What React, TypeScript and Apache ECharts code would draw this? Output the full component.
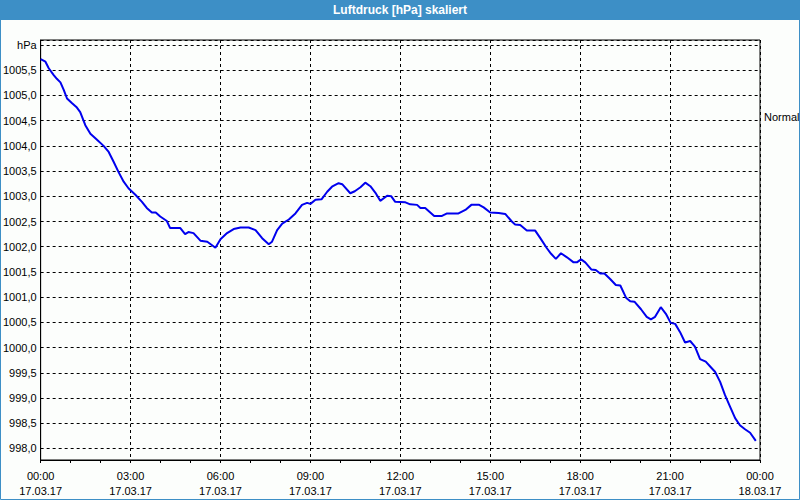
import React, { useEffect, useRef } from "react";
import * as echarts from "echarts";

// time in hours since 17.03.17 00:00
const hours = [
  0.0, 0.16, 0.27, 0.43, 0.54, 0.66, 0.77, 0.88, 1.04, 1.21, 1.32, 1.49, 1.66, 1.88, 2.1, 2.27, 2.43, 2.6, 2.77, 2.93,
  3.16, 3.38, 3.54, 3.71, 3.84, 3.99, 4.21, 4.32, 4.66, 4.82, 4.93, 5.1, 5.33, 5.56, 5.72, 5.83, 6.0, 6.22, 6.44, 6.67,
  6.94, 7.17, 7.39, 7.61, 7.72, 7.89, 8.06, 8.28, 8.5, 8.72, 8.89, 9.0, 9.17, 9.37, 9.56, 9.72, 9.94, 10.06, 10.33, 10.48,
  10.67, 10.83, 11.0, 11.17, 11.33, 11.56, 11.7, 11.83, 12.17, 12.33, 12.56, 12.67, 12.83, 13.13, 13.39, 13.56, 13.94, 14.17, 14.37, 14.63,
  14.78, 15.0, 15.28, 15.5, 15.72, 15.83, 16.0, 16.22, 16.5, 16.67, 16.89, 17.03, 17.19, 17.36, 17.56, 17.78, 17.89, 18.03, 18.17, 18.37,
  18.52, 18.67, 18.81, 19.0, 19.19, 19.34, 19.53, 19.67, 19.81, 20.03, 20.22, 20.36, 20.5, 20.69, 20.86, 21.02, 21.17, 21.33, 21.5, 21.67,
  21.83, 22.0, 22.19, 22.36, 22.5, 22.67, 22.83, 23.0, 23.17, 23.33, 23.5, 23.67, 23.86,
];

const pressure = [
  1005.72, 1005.67, 1005.54, 1005.41, 1005.33, 1005.26, 1005.11, 1004.94, 1004.85, 1004.76, 1004.67, 1004.41, 1004.24, 1004.12, 1004.0, 1003.88, 1003.69, 1003.48, 1003.29, 1003.16,
  1003.03, 1002.89, 1002.77, 1002.68, 1002.68, 1002.6, 1002.51, 1002.37, 1002.37, 1002.25, 1002.29, 1002.27, 1002.12, 1002.1, 1002.03, 1001.98, 1002.15, 1002.27, 1002.35, 1002.38,
  1002.38, 1002.33, 1002.17, 1002.05, 1002.1, 1002.33, 1002.46, 1002.54, 1002.66, 1002.83, 1002.87, 1002.85, 1002.93, 1002.94, 1003.09, 1003.19, 1003.26, 1003.24, 1003.06, 1003.1,
  1003.18, 1003.27, 1003.2, 1003.07, 1002.91, 1003.01, 1003.0, 1002.89, 1002.88, 1002.84, 1002.83, 1002.77, 1002.77, 1002.61, 1002.61, 1002.66, 1002.66, 1002.73, 1002.83, 1002.83,
  1002.78, 1002.68, 1002.67, 1002.65, 1002.5, 1002.44, 1002.43, 1002.32, 1002.32, 1002.17, 1001.97, 1001.86, 1001.76, 1001.87, 1001.79, 1001.69, 1001.69, 1001.75, 1001.69, 1001.55,
  1001.54, 1001.47, 1001.47, 1001.36, 1001.24, 1001.23, 1000.99, 1000.92, 1000.91, 1000.76, 1000.61, 1000.56, 1000.61, 1000.8, 1000.67, 1000.49, 1000.47, 1000.31, 1000.1, 1000.13,
  1000.02, 999.77, 999.72, 999.61, 999.52, 999.32, 999.06, 998.83, 998.6, 998.46, 998.38, 998.31, 998.15,
];

const timeLabels = ["00:00", "03:00", "06:00", "09:00", "12:00", "15:00", "18:00", "21:00", "00:00"];
const dateLabels = ["17.03.17", "17.03.17", "17.03.17", "17.03.17", "17.03.17", "17.03.17", "17.03.17", "17.03.17", "18.03.17"];

const normalValue = 1004.57;
const yMin = 997.77;
const yMax = 1006.1;

const FONT = "Liberation Sans";
const FRAME = "#3d8fc6";

export default function App() {
  const ref = useRef<HTMLDivElement>(null);

  useEffect(() => {
    if (!ref.current) return;
    const chart = echarts.init(ref.current, undefined, { renderer: "svg" });
    const data = hours.map((h, i) => [h, pressure[i]]);
    chart.setOption({
      animation: false,
      backgroundColor: "#fcfefc",
      title: {
        text: "Luftdruck [hPa] skaliert",
        left: "center",
        top: 3,
        padding: 0,
        textStyle: { color: "#ffffff", fontSize: 12, fontWeight: "bold", fontFamily: FONT, lineHeight: 14 },
      },
      graphic: [
        { type: "rect", z: 0, shape: { x: 0, y: 0, width: 800, height: 20 }, style: { fill: FRAME } },
        {
          type: "rect",
          z: 0,
          shape: { x: 0.5, y: 0.5, width: 799, height: 499 },
          style: { fill: "none", stroke: FRAME, lineWidth: 1 },
        },
      ],
      grid: {
        left: 40,
        right: 40,
        top: 40,
        bottom: 40,
        show: true,
        borderColor: "#000",
        borderWidth: 1,
        backgroundColor: "transparent",
      },
      xAxis: {
        type: "value",
        min: 0,
        max: 24,
        interval: 3,
        axisLine: { show: true, lineStyle: { color: "#000", width: 1 } },
        axisTick: { show: true, length: 3, lineStyle: { color: "#000" } },
        minorTick: { show: true, splitNumber: 3, length: 3, lineStyle: { color: "#000" } },
        splitLine: { show: true, lineStyle: { color: "#000", type: [3, 3], width: 1 } },
        axisLabel: {
          margin: 8,
          color: "#000",
          fontFamily: FONT,
          fontSize: 11,
          lineHeight: 15,
          formatter: (v: number) => {
            const i = Math.round(v / 3);
            return `${timeLabels[i]}\n${dateLabels[i]}`;
          },
        },
      },
      yAxis: {
        type: "value",
        min: yMin,
        max: yMax,
        splitNumber: 16,
        axisLine: { show: true, lineStyle: { color: "#000", width: 1 } },
        axisTick: { show: false },
        splitLine: { show: true, lineStyle: { color: "#000", type: [3, 3], width: 1 } },
        axisLabel: {
          margin: 4,
          color: "#000",
          fontFamily: FONT,
          fontSize: 11,
          showMinLabel: false,
          showMaxLabel: false,
          formatter: (v: number) => (Math.abs(v - 1006) < 0.01 ? "hPa" : v.toFixed(1).replace(".", ",")),
        },
      },
      series: [
        {
          type: "line",
          data,
          showSymbol: false,
          symbol: "none",
          lineStyle: { color: "#0000ee", width: 2 },
          markLine: {
            silent: true,
            symbol: "none",
            lineStyle: { color: "rgba(0,0,0,0)", width: 1, type: "solid" },
            label: {
              show: true,
              position: "end",
              distance: 4,
              formatter: "Normal",
              color: "#000",
              fontFamily: FONT,
              fontSize: 11,
            },
            data: [{ yAxis: normalValue }],
          },
        },
      ],
    });
    return () => chart.dispose();
  }, []);

  return (
    <div
      ref={ref}
      style={{ position: "fixed", left: 0, top: 0, width: 800, height: 500 }}
    />
  );
}
